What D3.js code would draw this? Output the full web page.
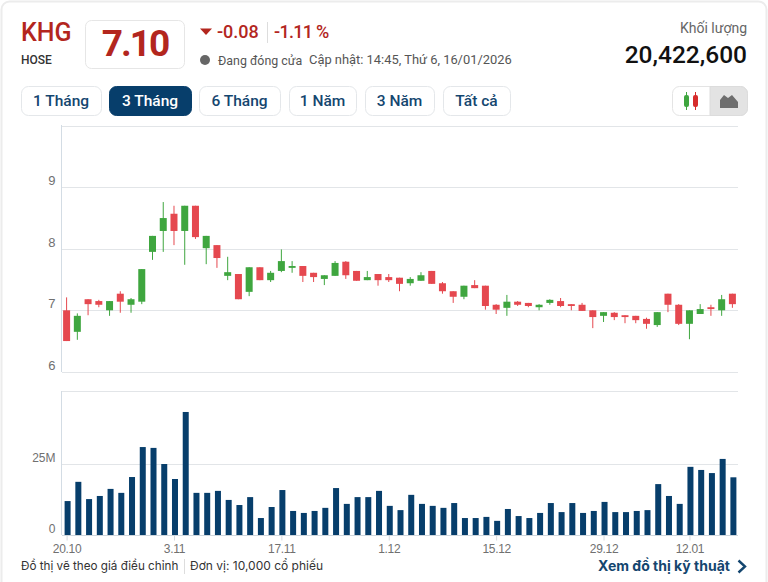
<!DOCTYPE html>
<html>
<head>
  <meta charset="utf-8">
  <style>
    html, body { margin: 0; padding: 0; background: #fff; }
    svg { display: block; }
    text { font-family: Roboto, "Liberation Sans", sans-serif; }
    .axis text { font-family: "Liberation Sans", sans-serif; font-size: 12px; fill: #707070; }
    .axis .domain { display: none; }
  </style>
</head>
<body>
  <svg id="chart" width="768" height="582"></svg>

  <script src="https://d3js.org/d3.v7.min.js"></script>
  <script>
    var dates = ['20.10','21.10','22.10','23.10','24.10','27.10','28.10','29.10','30.10','31.10',
      '3.11','4.11','5.11','6.11','7.11','10.11','11.11','12.11','13.11','14.11',
      '17.11','18.11','19.11','20.11','21.11','24.11','25.11','26.11','27.11','28.11',
      '1.12','2.12','3.12','4.12','5.12','8.12','9.12','10.12','11.12','12.12',
      '15.12','16.12','17.12','18.12','19.12','22.12','23.12','24.12','25.12','26.12',
      '29.12','30.12','31.12','5.01','6.01','7.01','8.01','9.01',
      '12.01','13.01','14.01','15.01','16.01'];

    var opens = [7.00,6.65,7.18,7.15,7.00,7.27,7.09,7.14,7.95,8.29,8.57,8.29,8.70,8.01,8.06,7.56,7.59,7.30,7.70,7.49,
      7.64,7.69,7.72,7.61,7.51,7.56,7.79,7.64,7.49,7.59,7.54,7.53,7.44,7.48,7.64,7.44,7.31,7.22,7.41,7.40,
      7.09,7.04,7.14,7.12,7.05,7.12,7.15,7.10,7.09,7.00,6.91,6.96,6.92,6.91,6.86,6.76,7.27,7.09,6.78,6.94,7.05,7.00,7.27];
    var highs = [7.21,6.95,7.18,7.17,7.15,7.31,7.20,7.67,8.21,8.76,8.70,8.70,8.70,8.21,8.06,7.87,7.59,7.70,7.70,7.64,
      7.99,7.80,7.72,7.61,7.57,7.80,7.80,7.64,7.64,7.59,7.59,7.53,7.54,7.62,7.64,7.46,7.31,7.40,7.49,7.40,
      7.10,7.25,7.15,7.12,7.10,7.18,7.20,7.10,7.12,7.00,6.97,6.97,6.92,6.91,6.88,6.97,7.27,7.10,7.00,7.10,7.09,7.25,7.27];
    var lows = [6.50,6.52,6.92,7.05,6.91,6.96,6.96,7.10,7.82,7.95,8.06,7.74,8.16,7.75,7.69,7.49,7.18,7.23,7.49,7.46,
      7.62,7.61,7.46,7.46,7.41,7.56,7.51,7.48,7.49,7.40,7.46,7.31,7.40,7.48,7.43,7.27,7.12,7.18,7.36,7.01,
      6.94,6.91,7.07,7.05,7.00,7.09,7.05,7.00,6.99,6.71,6.81,6.84,6.79,6.79,6.70,6.73,6.97,6.76,6.53,6.94,6.91,6.91,7.04];
    var closes = [6.50,6.91,7.10,7.09,7.15,7.14,7.18,7.67,8.21,8.50,8.29,8.70,8.19,8.21,7.85,7.62,7.18,7.70,7.49,7.61,
      7.80,7.72,7.56,7.54,7.57,7.77,7.57,7.48,7.54,7.49,7.49,7.43,7.51,7.57,7.43,7.31,7.22,7.40,7.36,7.07,
      7.01,7.14,7.09,7.07,7.09,7.17,7.07,7.07,6.99,6.89,6.97,6.89,6.89,6.84,6.78,6.97,7.09,6.78,7.00,7.02,7.02,7.18,7.10];
    var volumes = [12.0,18.8,12.7,13.8,16.3,14.9,20.5,31.1,30.8,25.1,19.8,43.5,14.9,14.9,15.6,12.4,10.6,13.4,6.0,9.9,
      15.9,8.5,7.8,8.5,9.6,16.6,11.0,13.4,13.4,15.6,10.3,8.8,14.2,11.0,10.3,9.6,11.3,6.0,6.0,6.4,
      5.0,9.2,6.7,6.0,7.8,11.3,8.1,11.3,7.8,8.5,11.7,8.1,8.1,8.5,8.8,18.0,13.8,11.0,24.1,23.0,21.9,26.9,20.4];

    var priceTicks = [6, 7, 8, 9];
    var volumeTicks = [0, 25];
    var dateTicks = ['20.10','3.11','17.11','1.12','15.12','29.12','12.01'];
    var ranges = ['1 Tháng','3 Tháng','6 Tháng','1 Năm','3 Năm','Tất cả'];

    var green = '#3fa63f', red = '#e5484f', navy = '#073e6b', darkRed = '#b3261e';
    var gridColor = '#e2e5e8', axisColor = '#d3dce4';

    var svg = d3.select('#chart');

    // card outline
    svg.append('rect').attr('x', 1.5).attr('y', 1.5).attr('width', 765).attr('height', 600)
      .attr('rx', 8).attr('fill', '#fff').attr('stroke', '#ececec').attr('stroke-width', 2);

    function label(x, y, str, size, color, weight, anchor) {
      return svg.append('text').attr('x', x).attr('y', y).text(str)
        .attr('font-size', size).attr('fill', color)
        .attr('font-weight', weight || 400).attr('text-anchor', anchor || 'start');
    }

    // header
    label(21, 41, 'KHG', 25, darkRed, 500);
    label(21, 64, 'HOSE', 12, '#333', 500);
    svg.append('rect').attr('x', 85.5).attr('y', 20.5).attr('width', 99).attr('height', 48)
      .attr('rx', 6).attr('fill', '#fff').attr('stroke', '#e6e6e6');
    label(135, 56, '7.10', 37, darkRed, 700, 'middle').style('letter-spacing', '-2px');
    svg.append('path').attr('d', 'M200 28.5 H212 L206 35 Z').attr('fill', darkRed);
    label(217, 38, '-0.08', 18, darkRed, 500);
    svg.append('line').attr('x1', 267.5).attr('x2', 267.5).attr('y1', 22).attr('y2', 43).attr('stroke', '#ddd');
    label(274, 38, '-1.11 %', 18, darkRed, 500).style('letter-spacing', '-0.7px');
    svg.append('circle').attr('cx', 205).attr('cy', 60).attr('r', 5).attr('fill', '#666');
    label(218, 65, 'Đang đóng cửa', 12.4, '#555');
    label(309, 64, 'Cập nhật: 14:45, Thứ 6, 16/01/2026', 12.9, '#555');
    label(747, 33, 'Khối lượng', 14, '#666', 400, 'end');
    label(747, 63, '20,422,600', 24.5, '#111', 500, 'end');

    // range buttons
    var btnX = [21, 109, 199, 289, 365, 443];
    var btnW = [80, 82, 81, 67, 69, 67];
    ranges.forEach(function(r, i) {
      var on = i === 1;
      svg.append('rect').attr('x', btnX[i] + 0.5).attr('y', 86.5).attr('width', btnW[i]).attr('height', 29)
        .attr('rx', 7).attr('fill', on ? navy : '#fff').attr('stroke', on ? navy : '#e4e7ea');
      label(btnX[i] + btnW[i] / 2, 106, r, 15.5, on ? '#fff' : '#14466f', 500, 'middle');
    });

    // chart type toggle
    svg.append('rect').attr('x', 672.5).attr('y', 86.5).attr('width', 75).attr('height', 29)
      .attr('rx', 7).attr('fill', '#fff').attr('stroke', '#e4e4e4');
    svg.append('path').attr('d', 'M710 86.5 H740.5 a7 7 0 0 1 7 7 V108.5 a7 7 0 0 1 -7 7 H710 Z')
      .attr('fill', '#e3e3e3').attr('stroke', '#dcdcdc');
    svg.append('path').attr('d', 'M686.5 92 V110').attr('stroke', green).attr('stroke-width', 1);
    svg.append('rect').attr('x', 684).attr('y', 95).attr('width', 5).attr('height', 12).attr('rx', 2).attr('fill', green);
    svg.append('path').attr('d', 'M695.5 92 V110').attr('stroke', '#d62b2b').attr('stroke-width', 1);
    svg.append('rect').attr('x', 693).attr('y', 95).attr('width', 5).attr('height', 12).attr('rx', 2).attr('fill', '#d62b2b');
    svg.append('path').attr('d', 'M720 108 V100 L724 95 L728 98 L732 95 L738 102 V108 Z').attr('fill', '#6e6e6e');

    // scales
    var x = d3.scalePoint().domain(dates).range([66.6, 732.4]);
    var yPrice = d3.scaleLinear().domain([6, 10]).range([371.8, 125.8]);
    var yVolume = d3.scaleLinear().domain([0, 25]).range([535, 464.3]);
    var volOffset = 1;

    // price panel
    svg.append('g').attr('class', 'axis')
      .attr('transform', 'translate(61.5,0)')
      .call(d3.axisLeft(yPrice).tickValues(priceTicks).tickSize(0).tickPadding(6).tickFormat(d3.format('d')))
      .selectAll('text').attr('dy', '-0.2em').style('font-size', '13px');
    svg.selectAll('.price-grid').data(priceTicks.concat([10])).enter().append('line')
      .attr('class', 'price-grid')
      .attr('x1', 62).attr('x2', 738)
      .attr('y1', function(d) { return Math.round(yPrice(d)) + 0.5; })
      .attr('y2', function(d) { return Math.round(yPrice(d)) + 0.5; })
      .attr('stroke', gridColor);
    svg.append('line').attr('x1', 61.5).attr('x2', 61.5).attr('y1', 125).attr('y2', 372).attr('stroke', axisColor);

    // candles
    var candles = svg.append('g').selectAll('g').data(dates).enter().append('g');
    function candleColor(d, i) { return closes[i] >= opens[i] ? green : red; }
    candles.append('line')
      .attr('x1', function(d) { return x(d); })
      .attr('x2', function(d) { return x(d); })
      .attr('y1', function(d, i) { return yPrice(highs[i]); })
      .attr('y2', function(d, i) { return yPrice(lows[i]); })
      .attr('stroke', candleColor).attr('stroke-width', 1);
    candles.append('rect')
      .attr('x', function(d) { return x(d) - 3.5; })
      .attr('width', 7)
      .attr('y', function(d, i) { return yPrice(Math.max(opens[i], closes[i])); })
      .attr('height', function(d, i) { return Math.abs(yPrice(opens[i]) - yPrice(closes[i])); })
      .attr('fill', candleColor);

    // volume panel
    svg.append('line').attr('x1', 62).attr('x2', 738).attr('y1', 391.5).attr('y2', 391.5).attr('stroke', gridColor);
    svg.append('line').attr('x1', 62).attr('x2', 738).attr('y1', 464.5).attr('y2', 464.5).attr('stroke', gridColor);
    svg.append('line').attr('x1', 61.5).attr('x2', 61.5).attr('y1', 391).attr('y2', 535).attr('stroke', axisColor);
    svg.append('g').attr('class', 'axis')
      .attr('transform', 'translate(61.5,0)')
      .call(d3.axisLeft(yVolume).tickValues(volumeTicks).tickSize(0).tickPadding(6)
        .tickFormat(function(d) { return d === 0 ? '0' : d + 'M'; }))
      .selectAll('text').attr('dy', '-0.2em');

    svg.append('g').selectAll('rect').data(dates).enter().append('rect')
      .attr('x', function(d) { return x(d) + volOffset - 3; })
      .attr('width', 6)
      .attr('y', function(d, i) { return yVolume(volumes[i]); })
      .attr('height', function(d, i) { return yVolume(0) - yVolume(volumes[i]); })
      .attr('fill', navy);

    // date axis
    var xAxis = svg.append('g').attr('class', 'axis').attr('transform', 'translate(0,535.5)')
      .call(d3.axisBottom(x).tickValues(dateTicks).tickSize(5).tickPadding(4));
    xAxis.selectAll('.tick line').attr('stroke', '#d5d9dd');
    xAxis.selectAll('text').style('letter-spacing', '-0.3px');
    svg.append('line').attr('x1', 62).attr('x2', 738).attr('y1', 535.5).attr('y2', 535.5).attr('stroke', '#cfd6dc');

    // footer
    var foot = 'Inter, "Liberation Sans", sans-serif';
    label(21, 570, 'Đồ thị vẽ theo giá điều chỉnh', 11.7, '#333').style('font-family', foot);
    svg.append('line').attr('x1', 184.5).attr('x2', 184.5).attr('y1', 559).attr('y2', 574).attr('stroke', '#ddd');
    label(190, 570, 'Đơn vị: 10,000 cổ phiếu', 12, '#333').style('font-family', foot);
    label(598, 571, 'Xem đồ thị kỹ thuật', 14, '#14466f', 700).style('font-family', foot);
    svg.append('path').attr('d', 'M738.5 560.5 L745 566.5 L738.5 572.5').attr('fill', 'none')
      .attr('stroke', '#14466f').attr('stroke-width', 2.4);
  </script>
</body>
</html>
